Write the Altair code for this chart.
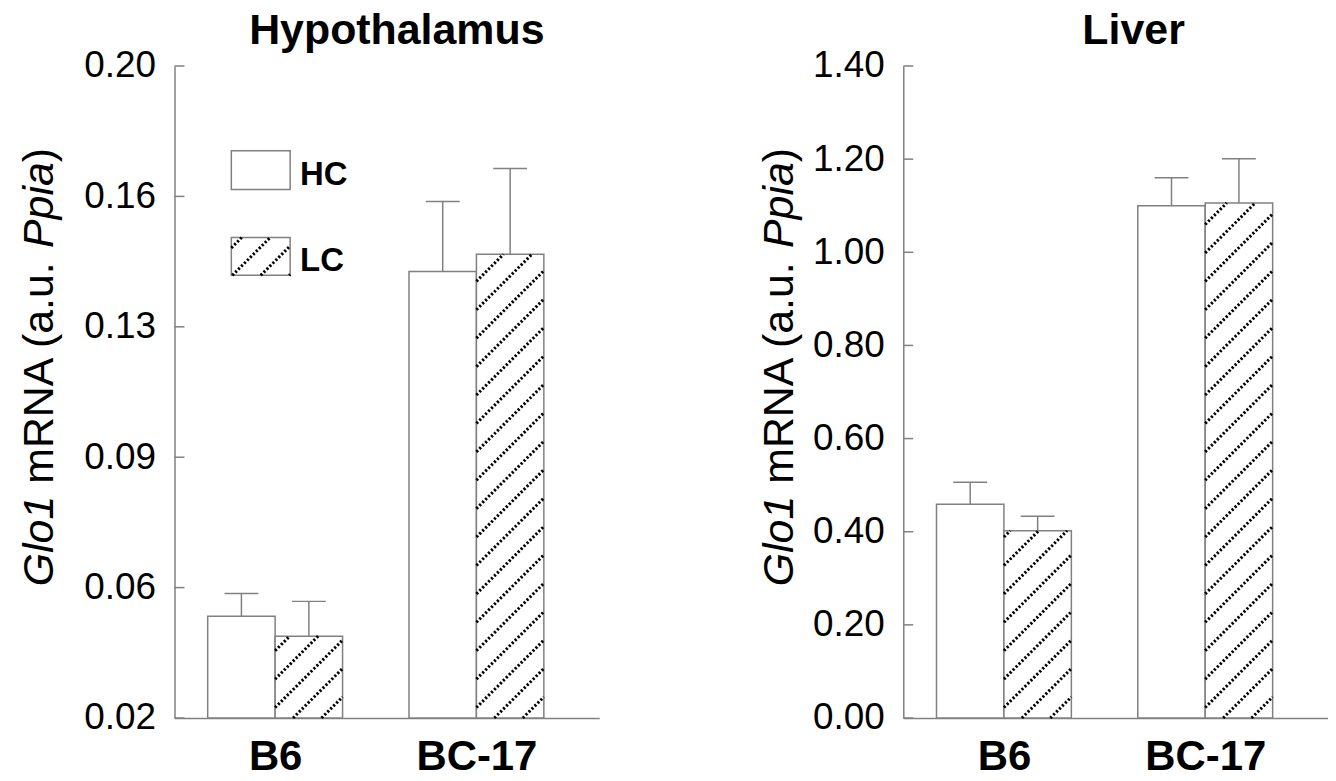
import altair as alt
import pandas as pd
import numpy as np

# ---------------- data ----------------
groups = ["B6", "BC-17"]
diets = ["HC", "LC"]
hyp_mean = [0.0481, 0.0426, 0.1433, 0.1480]   # B6-HC, B6-LC, BC17-HC, BC17-LC
hyp_err = [0.0063, 0.0096, 0.0193, 0.0237]
liv_mean = [0.459, 0.402, 1.100, 1.106]
liv_err = [0.047, 0.031, 0.060, 0.095]
hyp_ticks = [0.02, 0.056, 0.092, 0.128, 0.164, 0.20]
liv_ticks = [0.0, 0.2, 0.4, 0.6, 0.8, 1.0, 1.2, 1.4]
hyp_domain = [0.02, 0.20]
liv_domain = [0.0, 1.4]
panel_titles = ["Hypothalamus", "Liver"]
ytitle_segments = [("Glo1", "italic"), (" mRNA (a.u. ", "normal"), ("Ppia", "italic"), (")", "normal")]

# ---------------- layout / style ----------------
PW, PH = 426, 654
XDOM = [-0.5, 1.61]
BARW = 0.335
CAPW = 0.084
GRAY = "#808080"
FONT = "Liberation Sans"
TICK_FS = 37
XLAB_FS = 42
TITLE_FS = 43
YT_FS = 43
LEG_FS = 33
HATCH_STEP = 28.5
HATCH_PHASE = 18
YT_CENTER = 302          # vertical centre of the y title, px from plot top
TITLE_BASE = -22         # title baseline, px from plot top
# legend boxes (pixels inside left plot)
LEG_X0, LEG_X1 = 57, 116
LEG_BOXES = [(85, 124), (172, 210)]
LEG_TEXT_X = 126

# Arial / Liberation Sans advance widths (per 1000 em)
AW = {'G': 778, 'l': 222, 'o': 556, '1': 556, ' ': 278, 'm': 833, 'R': 722, 'N': 722,
      'A': 667, '(': 333, 'a': 556, '.': 278, 'u': 556, 'P': 667, 'p': 556, 'i': 222, ')': 333}


def tw(s, fs):
    return sum(AW.get(c, 556) for c in s) * fs / 1000.0


def hatch(px0, px1, py_bottom, py_top, phase):
    w = px1 - px0
    h = py_bottom - py_top
    segs = []
    kmin = int(np.floor((-h - phase) / HATCH_STEP)) - 1
    kmax = int(np.ceil((w - phase) / HATCH_STEP)) + 1
    for k in range(kmin, kmax + 1):
        c = phase + k * HATCH_STEP
        lo = max(0.0, -c)
        hi = min(h, w - c)
        if hi - lo > 0.8:
            segs.append((px0 + c + lo, py_bottom - lo, px0 + c + hi, py_bottom - hi))
    return segs


def panel(name, means, errs, ydom, ticks, title_dx, ytitle_x, legend):
    sx = PW / (XDOM[1] - XDOM[0])
    sy = PH / (ydom[1] - ydom[0])
    rows = []
    for i, g in enumerate(groups):
        for j, d in enumerate(diets):
            k = i * len(diets) + j
            x0 = i - BARW + j * BARW
            x1 = x0 + BARW
            xc = (x0 + x1) / 2
            rows.append(dict(group=g, diet=d, x0=x0, x1=x1, xc=xc, cl=xc - CAPW, cr=xc + CAPW,
                             mean=means[k], top=means[k] + errs[k]))
    df = pd.DataFrame(rows)

    segs = []
    for r in rows:
        if r["diet"] == "LC":
            px0 = (r["x0"] - XDOM[0]) * sx
            px1 = (r["x1"] - XDOM[0]) * sx
            pyt = (ydom[1] - r["mean"]) * sy
            segs += hatch(px0, px1, PH, pyt, HATCH_PHASE)
    if legend:
        y0, y1 = LEG_BOXES[1]
        segs += hatch(LEG_X0, LEG_X1, y1, y0, 1)
    hdf = pd.DataFrame([dict(xa=XDOM[0] + a / sx, ya=ydom[1] - b / sy,
                             xb=XDOM[0] + c / sx, yb=ydom[1] - d / sy) for a, b, c, d in segs])

    xs = alt.Scale(domain=XDOM, nice=False, zero=False)
    ys = alt.Scale(domain=ydom, nice=False, zero=False)
    label_expr = "[" + ",".join("'%s'" % g for g in groups) + "][datum.value]"
    xaxis = alt.Axis(values=list(range(len(groups))), labelExpr=label_expr, ticks=False, grid=False,
                     domainColor=GRAY, domainWidth=1.5, labelFont=FONT, labelFontSize=XLAB_FS,
                     labelFontWeight="bold", labelColor="black", labelPadding=19, title=None,
                     labelFlush=False, labelOverlap=False)
    yaxis = alt.Axis(values=ticks, format=".2f", ticks=False, grid=False, domainColor=GRAY,
                     domainWidth=1.5, labelFont=FONT, labelFontSize=TICK_FS, labelColor="black",
                     labelPadding=19, title=None, labelOverlap=False, labelFlush=False)

    def X(f):
        return alt.X(f, scale=xs, axis=xaxis)

    def Y(f):
        return alt.Y(f, scale=ys, axis=yaxis)

    bars = alt.Chart(df).mark_bar(fill="white", stroke=GRAY, strokeWidth=1.5).encode(
        x=X("x0:Q"), x2="x1", y=Y("mean:Q"), y2=alt.datum(ydom[0]))
    layers = [bars]

    tdf = pd.DataFrame({"v": ticks})
    layers.append(alt.Chart(tdf).mark_rule(color=GRAY, strokeWidth=1.5).encode(
        y=Y("v:Q"), x=alt.value(0), x2=alt.value(10)))

    if legend:
        ldf = pd.DataFrame([dict(diet=d,
                                 lx0=XDOM[0] + LEG_X0 / sx, lx1=XDOM[0] + LEG_X1 / sx,
                                 ly0=ydom[1] - LEG_BOXES[i][0] / sy, ly1=ydom[1] - LEG_BOXES[i][1] / sy,
                                 tx=XDOM[0] + LEG_TEXT_X / sx,
                                 ty=ydom[1] - ((LEG_BOXES[i][0] + LEG_BOXES[i][1]) / 2 + 5) / sy)
                            for i, d in enumerate(diets)])
        layers.append(alt.Chart(ldf).mark_rect(fill="white", stroke=GRAY, strokeWidth=1.5).encode(
            x=X("lx0:Q"), x2="lx1", y=Y("ly0:Q"), y2="ly1"))
        layers.append(alt.Chart(ldf).mark_text(font=FONT, fontSize=LEG_FS, fontWeight="bold",
                                               align="left", baseline="middle", color="black").encode(
            x=X("tx:Q"), y=Y("ty:Q"), text="diet:N"))

    layers.append(alt.Chart(hdf).mark_rule(color="black", strokeWidth=3, strokeDash=[2.2, 2]).encode(
        x=X("xa:Q"), x2="xb", y=Y("ya:Q"), y2="yb"))

    layers.append(alt.Chart(df).mark_rule(color=GRAY, strokeWidth=1.5).encode(
        x=X("xc:Q"), y=Y("mean:Q"), y2="top"))
    layers.append(alt.Chart(df).mark_rule(color=GRAY, strokeWidth=1.5).encode(
        x=X("cl:Q"), x2="cr", y=Y("top:Q")))

    one = pd.DataFrame({"k": [0]})
    # panel title
    layers.append(alt.Chart(one).mark_text(font=FONT, fontSize=TITLE_FS, fontWeight="bold", align="center",
                                           baseline="alphabetic", color="black").encode(
        x=alt.value(PW / 2 + title_dx), y=alt.value(TITLE_BASE), text=alt.value(name)))

    # y-axis title with italic gene names
    full = "".join(s for s, _ in ytitle_segments)
    total = tw(full, YT_FS)
    start = YT_CENTER + total / 2
    cum = 0.0
    for s, style in ytitle_segments:
        lead = len(s) - len(s.lstrip(" "))
        pos = cum + tw(" " * lead, YT_FS)
        layers.append(alt.Chart(one).mark_text(font=FONT, fontSize=YT_FS, fontStyle=style, angle=270,
                                               align="left", baseline="middle", color="black").encode(
            x=alt.value(ytitle_x), y=alt.value(start - pos), text=alt.value(s.strip())))
        cum += tw(s, YT_FS)

    return alt.layer(*layers).properties(width=PW, height=PH)


left = panel(panel_titles[0], hyp_mean, hyp_err, hyp_domain, hyp_ticks, 10, -135, True)
right = panel(panel_titles[1], liv_mean, liv_err, liv_domain, liv_ticks, 18, -124, False)

chart = alt.hconcat(left, right, spacing=160).configure_view(stroke=None).properties(
    padding={"left": 11, "top": 1, "right": 0, "bottom": 0})

chart.save("out.html", embed_options={"renderer": "svg", "actions": False})
